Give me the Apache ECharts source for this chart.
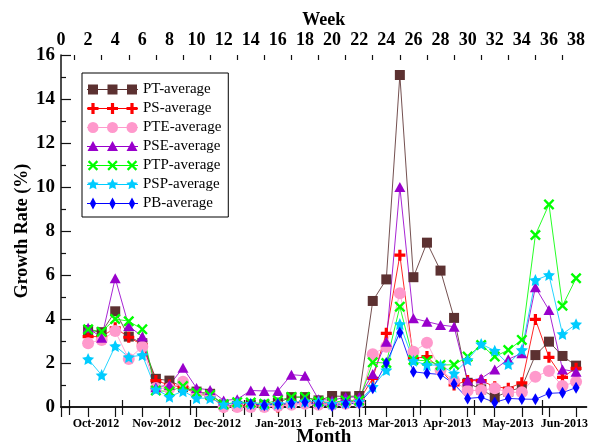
<!DOCTYPE html>
<html><head><meta charset="utf-8">
<script src="https://cdn.jsdelivr.net/npm/echarts@6/dist/echarts.min.js"></script>
<style>html,body{margin:0;padding:0;background:#fff}#c{width:589px;height:447px}</style>
</head><body><div id="c"></div>
<script>
// ---------------- DATA ----------------
const weeks = [2,3,4,5,6,7,8,9,10,11,12,13,14,15,16,17,18,19,20,21,22,23,24,25,26,27,28,29,30,31,32,33,34,35,36,37,38];
const PT  = [3.5,3.4,4.35,3.2,2.9,1.28,1.2,0.9,0.7,0.6,0.1,0.05,0.1,0.1,0.2,0.45,0.45,0.3,0.5,0.48,0.5,4.82,5.8,15.09,5.9,7.47,6.2,4.05,1.1,0.8,0.44,0.7,0.9,2.36,2.97,2.32,1.88];
const PS  = [3.2,3.2,3.6,3.17,2.82,1.2,1.0,0.9,0.6,0.5,0.0,0.05,0.1,0.05,0.0,0.2,0.25,0.2,0.15,0.2,0.3,1.3,3.35,6.9,2.2,2.29,1.7,1.0,1.2,1.2,0.92,0.85,1.1,3.98,2.26,1.35,1.76];
const PTE = [2.9,3.05,3.45,2.18,2.74,0.86,0.85,1.15,0.6,0.5,0.0,0.0,0.0,0.0,0.05,0.1,0.15,0.1,0.1,0.15,0.2,2.4,2.74,5.17,2.51,2.92,1.68,1.2,0.74,0.76,0.85,0.67,0.67,1.38,1.64,0.95,1.15];
const PSE = [3.6,3.15,5.85,3.68,3.2,0.9,1.0,1.78,0.86,0.77,0.3,0.35,0.75,0.73,0.73,1.47,1.42,0.35,0.3,0.45,0.45,1.5,2.97,10.0,4.03,3.88,3.73,3.65,1.2,1.3,1.71,2.17,2.44,5.44,4.41,1.71,1.6];
const PTP = [3.53,3.42,4.0,3.9,3.53,0.75,0.7,0.95,0.65,0.55,0.12,0.22,0.2,0.15,0.3,0.45,0.45,0.25,0.2,0.3,0.3,2.03,2.0,4.56,2.14,2.1,1.91,1.92,2.29,2.82,2.29,2.59,3.05,7.82,9.21,4.6,5.85];
const PSP = [2.18,1.45,2.77,2.27,2.36,0.8,0.47,0.72,0.4,0.4,0.12,0.18,0.15,0.1,0.15,0.2,0.25,0.24,0.15,0.2,0.25,0.92,1.68,3.77,2.1,1.91,1.9,1.53,2.14,2.86,2.56,1.95,2.59,5.77,6.0,3.32,3.76];
const PB  = [null,null,null,null,null,null,null,null,null,null,null,null,0.13,0.08,0.12,0.16,0.22,0.12,0.04,0.15,0.16,0.85,2.0,3.38,1.6,1.53,1.48,1.04,0.39,0.44,0.21,0.39,0.36,0.35,0.62,0.65,0.88];
const seriesNames = ['PT-average','PS-average','PTE-average','PSE-average','PTP-average','PSP-average','PB-average'];
const weekTicks = [0,2,4,6,8,10,12,14,16,18,20,22,24,26,28,30,32,34,36,38];
const weekMinorTicks = [1,3,5,7,9,11,13,15,17,19,21,23,25,27,29,31,33,35,37];
const monthLabels = ['Oct-2012','Nov-2012','Dec-2012','Jan-2013','Feb-2013','Mar-2013','Apr-2013','May-2013','Jun-2013'];
const monthBounds = [0.61,4.55,9.57,13.5,18.57,22.48,26.49,30.47,35.51,38.77];

// ---------------- STYLE ----------------
const FONT = 'Liberation Serif';
const colors = ['#5c3131','#ff0000','#ff99cc','#9900cc','#00ff00','#00ccff','#0000ff'];
const XMAX = 38.77;

function starPts(cx, cy, R, r){
  let s='';
  for(let i=0;i<10;i++){
    const a = -Math.PI/2 + i*Math.PI/5;
    const rad = i%2===0?R:r;
    s += (i===0?'M':'L') + (cx+rad*Math.cos(a)).toFixed(2)+' '+(cy+rad*Math.sin(a)).toFixed(2);
  }
  return s+'Z';
}
function shape(type, cx, cy){
  switch(type){
    case 'rect': return `M${cx-5} ${cy-5}H${cx+5}V${cy+5}H${cx-5}Z`;
    case 'plus': { const a=5.5,t=1.6; return `M${cx-t} ${cy-a}H${cx+t}V${cy-t}H${cx+a}V${cy+t}H${cx+t}V${cy+a}H${cx-t}V${cy+t}H${cx-a}V${cy-t}H${cx-t}Z`; }
    case 'circle': { const r=5.5; return `M${cx-r} ${cy}A${r} ${r} 0 1 1 ${cx+r} ${cy}A${r} ${r} 0 1 1 ${cx-r} ${cy}Z`; }
    case 'tri': return `M${cx} ${cy-5.5}L${cx+5.5} ${cy+4.5}L${cx-5.5} ${cy+4.5}Z`;
    case 'x': { const a=5.2,t=1.6; return `M${cx-a} ${cy-a+t}L${cx-a+t} ${cy-a}L${cx} ${cy-t}L${cx+a-t} ${cy-a}L${cx+a} ${cy-a+t}L${cx+t} ${cy}L${cx+a} ${cy+a-t}L${cx+a-t} ${cy+a}L${cx} ${cy+t}L${cx-a+t} ${cy+a}L${cx-a} ${cy+a-t}L${cx-t} ${cy}Z`; }
    case 'star': return starPts(cx, cy, 6, 2.9);
    case 'diamond': return `M${cx} ${cy-6}L${cx+3.2} ${cy}L${cx} ${cy+6}L${cx-3.2} ${cy}Z`;
  }
}
const types = ['rect','plus','circle','tri','x','star','diamond'];
function legendIcon(type){
  const W=51,H=14,cy=7;
  let p = `M0 0L0.01 0L0 0.01Z M${W} ${H}L${W-0.01} ${H}L${W} ${H-0.01}Z `;
  p += `M0 6.5H${W}V7.5H0Z `;
  [6,25.5,45].forEach(cx=>{ p += shape(type,cx,cy)+' '; });
  return 'path://'+p;
}
function markerSymbol(type){
  return 'path://'+shape(type,10,10);
}
const markerSize = {rect:[10,10],plus:[11,11],circle:[12,12],tri:[11,10],x:[11,11],star:[12,12],diamond:[7,12]};

const allData = [PT,PS,PTE,PSE,PTP,PSP,PB];
const series = allData.map((arr,i)=>({
  name: seriesNames[i],
  type: 'line',
  xAxisIndex: 0,
  yAxisIndex: 0,
  data: weeks.map((w,j)=>arr[j]==null?null:[w,arr[j]]).filter(d=>d!==null),
  symbol: markerSymbol(types[i]),
  symbolSize: markerSize[types[i]],
  symbolKeepAspect: false,
  lineStyle: {color: colors[i], width: 1, opacity: 0.85},
  itemStyle: {color: colors[i], opacity: 1},
  emphasis: {disabled: true},
  animation: false
}));

const axisLineStyle = {color:'#111', width:1.5};
const option = {
  animation: false,
  backgroundColor: '#fff',
  grid: {left: 61, right: 2.5, top: 55, bottom: 40, containLabel: false, outerBoundsMode: 'none'},
  legend: {
    orient: 'vertical',
    left: 82, top: 73,
    padding: [9, 7, 6, 5],
    itemWidth: 51, itemHeight: 14, itemGap: 4,
    borderColor: '#000', borderWidth: 1,
    backgroundColor: '#fff',
    textStyle: {fontFamily: FONT, fontSize: 15, color: '#000', padding:[0,0,0,0]},
    data: seriesNames.map((n,i)=>({name:n, icon: legendIcon(types[i])})),
    selectedMode: false
  },
  xAxis: [
    { // top week axis (data axis)
      type: 'value', position: 'top', min: 0, max: XMAX,
      name: 'Week', nameLocation: 'middle', nameGap: 26, nameMoveOverlap: false,
      nameTextStyle: {fontFamily: FONT, fontWeight: 'bold', fontSize: 18, color:'#000'},
      axisLine: {show: true, lineStyle: axisLineStyle},
      axisTick: {show: true, inside: true, length: 10, customValues: weekTicks, lineStyle: {color:'#111', width:1.2}},
      axisLabel: {show: true, customValues: weekTicks, margin: 6, fontFamily: FONT, fontWeight: 'bold', fontSize: 18, color:'#000'},
      splitLine: {show: false}
    },
    { // bottom month axis
      type: 'value', position: 'bottom', min: 0, max: XMAX,
      name: 'Month', nameLocation: 'middle', nameGap: 21, nameMoveOverlap: false,
      nameTextStyle: {fontFamily: FONT, fontWeight: 'bold', fontSize: 19, color:'#000'},
      axisLine: {show: true, onZero: false, lineStyle: axisLineStyle},
      axisTick: {show: true, inside: true, length: 7, customValues: monthBounds.slice(0,9), lineStyle: {color:'#111', width:1.2}},
      axisLabel: {show: true, margin: 11, fontFamily: FONT, fontWeight: 'bold', fontSize: 12, color:'#000',
        customValues: monthLabels.map((m,i)=>(monthBounds[i]+monthBounds[i+1])/2),
        formatter: function(v){
          for(let i=0;i<monthLabels.length;i++){
            const mid=(monthBounds[i]+monthBounds[i+1])/2;
            if(Math.abs(mid-v)<0.01) return monthLabels[i];
          }
          return '';
        }},
      splitLine: {show: false}
    },
    { // bottom month ticks outward
      type: 'value', position: 'bottom', min: 0, max: XMAX,
      axisLine: {show: false, onZero: false},
      axisTick: {show: true, inside: false, length: 8, customValues: monthBounds.slice(0,9), lineStyle: {color:'#111', width:1.2}},
      axisLabel: {show: false},
      splitLine: {show: false}
    },
    { // top minor ticks
      type: 'value', position: 'top', min: 0, max: XMAX,
      axisLine: {show: false},
      axisTick: {show: true, inside: true, length: 5, customValues: weekMinorTicks, lineStyle: {color:'#111', width:1.2}},
      axisLabel: {show: false},
      splitLine: {show: false}
    }
  ],
  yAxis: [{
    type: 'value', min: 0, max: 16, interval: 2, position: 'left',
    name: 'Growth Rate (%)', nameLocation: 'middle', nameGap: 30, nameRotate: 90, nameMoveOverlap: false,
    nameTextStyle: {fontFamily: FONT, fontWeight: 'bold', fontSize: 18, color:'#000'},
    axisLine: {show: true, onZero: false, lineStyle: axisLineStyle},
    axisTick: {show: true, inside: true, length: 10, lineStyle: {color:'#111', width:1.2}},
    minorTick: {show: true, splitNumber: 2, length: 5, lineStyle: {color:'#111', width:1.2}},
    axisLabel: {margin: 6, fontFamily: FONT, fontWeight: 'bold', fontSize: 19, color:'#000'},
    splitLine: {show: false}, minorSplitLine: {show: false}
  }],
  series: series
};
const chart = echarts.init(document.getElementById('c'), null, {renderer: 'canvas'});
chart.setOption(option);
</script></body></html>
